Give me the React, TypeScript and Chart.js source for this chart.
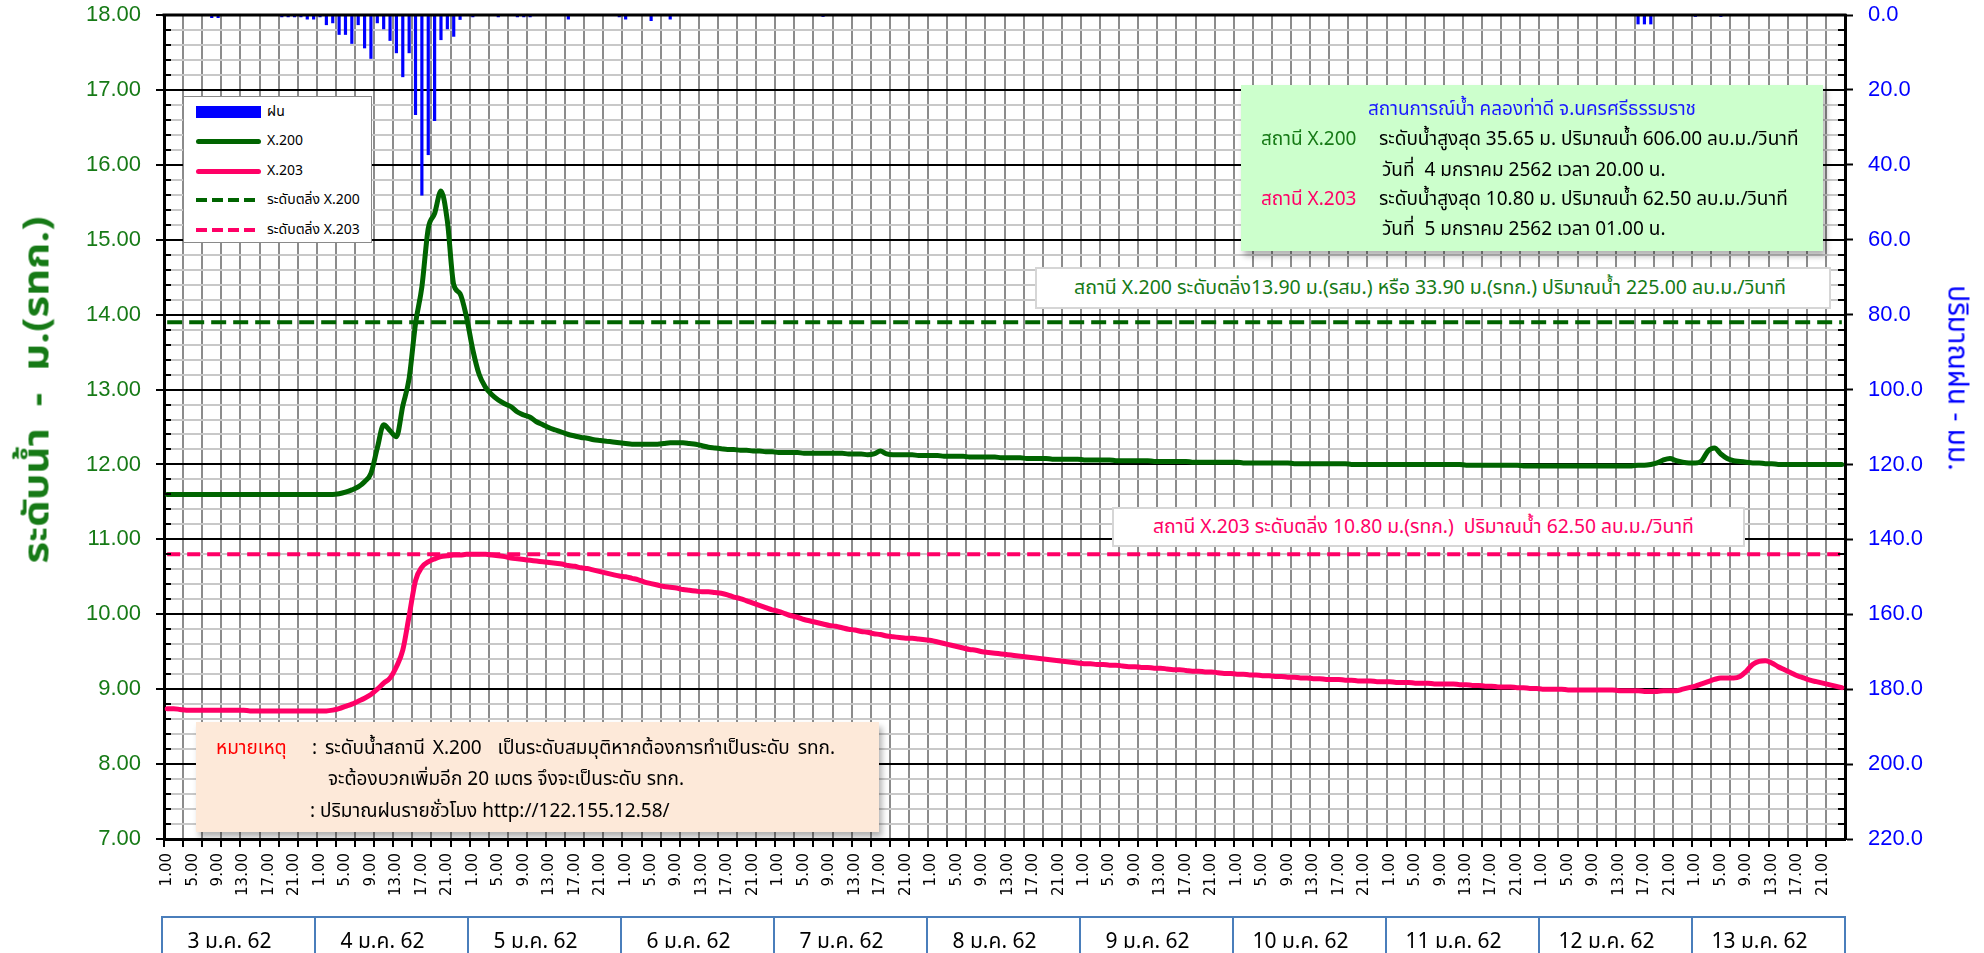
import React, { useEffect, useRef } from 'react';
import { Chart, registerables } from 'chart.js';

Chart.register(...registerables);

// ---------------- DATA ----------------
const DAYS = ['3 ม.ค. 62', '4 ม.ค. 62', '5 ม.ค. 62', '6 ม.ค. 62', '7 ม.ค. 62', '8 ม.ค. 62', '9 ม.ค. 62', '10 ม.ค. 62', '11 ม.ค. 62', '12 ม.ค. 62', '13 ม.ค. 62'];
const HOURS = ['1.00', '2.00', '3.00', '4.00', '5.00', '6.00', '7.00', '8.00', '9.00', '10.00', '11.00', '12.00',
  '13.00', '14.00', '15.00', '16.00', '17.00', '18.00', '19.00', '20.00', '21.00', '22.00', '23.00', '24.00'];

// water level X.200 (m), hourly, 3-13 Jan
const X200 = [
  11.60, 11.60, 11.60, 11.60, 11.60, 11.60, 11.60, 11.60, 11.60, 11.60, 11.60, 11.60, 11.60, 11.60, 11.60, 11.60, 11.60, 11.60, 11.60, 11.60, 11.60, 11.60, 11.60, 11.60,
  11.60, 11.60, 11.60, 11.61, 11.63, 11.66, 11.70, 11.77, 11.88, 12.22, 12.53, 12.45, 12.37, 12.78, 13.15, 13.88, 14.37, 15.15, 15.35, 15.65, 15.25, 14.40, 14.28, 13.97,
  13.53, 13.20, 13.03, 12.93, 12.86, 12.81, 12.77, 12.70, 12.66, 12.63, 12.57, 12.53, 12.49, 12.46, 12.43, 12.40, 12.38, 12.36, 12.35, 12.33, 12.32, 12.31, 12.30, 12.29,
  12.28, 12.27, 12.27, 12.27, 12.27, 12.27, 12.28, 12.29, 12.29, 12.29, 12.28, 12.27, 12.25, 12.23, 12.22, 12.21, 12.20, 12.20, 12.19, 12.19, 12.18, 12.18, 12.17, 12.17,
  12.16, 12.16, 12.16, 12.16, 12.15, 12.15, 12.15, 12.15, 12.15, 12.15, 12.15, 12.14, 12.14, 12.14, 12.13, 12.14, 12.18, 12.14, 12.13, 12.13, 12.13, 12.13, 12.12, 12.12,
  12.12, 12.12, 12.11, 12.11, 12.11, 12.11, 12.10, 12.10, 12.10, 12.10, 12.10, 12.09, 12.09, 12.09, 12.09, 12.08, 12.08, 12.08, 12.08, 12.07, 12.07, 12.07, 12.07, 12.07,
  12.06, 12.06, 12.06, 12.06, 12.06, 12.05, 12.05, 12.05, 12.05, 12.05, 12.05, 12.04, 12.04, 12.04, 12.04, 12.04, 12.04, 12.03, 12.03, 12.03, 12.03, 12.03, 12.03, 12.03,
  12.03, 12.02, 12.02, 12.02, 12.02, 12.02, 12.02, 12.02, 12.02, 12.01, 12.01, 12.01, 12.01, 12.01, 12.01, 12.01, 12.01, 12.01, 12.00, 12.00, 12.00, 12.00, 12.00, 12.00,
  12.00, 12.00, 12.00, 12.00, 12.00, 12.00, 12.00, 12.00, 12.00, 12.00, 12.00, 12.00, 11.99, 11.99, 11.99, 11.99, 11.99, 11.99, 11.99, 11.99, 11.99, 11.98, 11.98, 11.98,
  11.98, 11.98, 11.98, 11.98, 11.98, 11.98, 11.98, 11.98, 11.98, 11.98, 11.98, 11.98, 11.98, 11.98, 11.98, 11.99, 11.99, 12.00, 12.02, 12.06, 12.08, 12.05, 12.03, 12.02,
  12.02, 12.05, 12.18, 12.22, 12.14, 12.08, 12.05, 12.04, 12.03, 12.02, 12.02, 12.01, 12.01, 12.00, 12.00, 12.00, 12.00, 12.00, 12.00, 12.00, 12.00, 12.00, 12.00, 12.00,
];

// water level X.203 (m), hourly
const X203 = [
  8.74, 8.74, 8.73, 8.72, 8.72, 8.72, 8.72, 8.72, 8.72, 8.72, 8.72, 8.72, 8.72, 8.71, 8.71, 8.71, 8.71, 8.71, 8.71, 8.71, 8.71, 8.71, 8.71, 8.71,
  8.71, 8.71, 8.72, 8.74, 8.77, 8.80, 8.84, 8.88, 8.93, 9.00, 9.08, 9.15, 9.30, 9.52, 9.98, 10.45, 10.63, 10.70, 10.74, 10.77, 10.78, 10.79, 10.79, 10.80,
  10.80, 10.80, 10.80, 10.79, 10.78, 10.77, 10.75, 10.74, 10.73, 10.72, 10.71, 10.70, 10.69, 10.68, 10.67, 10.65, 10.64, 10.62, 10.61, 10.59, 10.57, 10.55, 10.53, 10.51,
  10.50, 10.48, 10.46, 10.43, 10.41, 10.39, 10.37, 10.36, 10.35, 10.33, 10.32, 10.31, 10.30, 10.30, 10.29, 10.28, 10.26, 10.23, 10.21, 10.18, 10.15, 10.12, 10.09, 10.06,
  10.04, 10.01, 9.98, 9.96, 9.93, 9.91, 9.89, 9.87, 9.85, 9.84, 9.82, 9.80, 9.79, 9.77, 9.76, 9.74, 9.73, 9.71, 9.70, 9.69, 9.68, 9.68, 9.67, 9.66,
  9.65, 9.63, 9.61, 9.59, 9.57, 9.55, 9.53, 9.52, 9.50, 9.49, 9.48, 9.47, 9.46, 9.45, 9.44, 9.43, 9.42, 9.41, 9.40, 9.39, 9.38, 9.37, 9.36, 9.35,
  9.34, 9.34, 9.33, 9.33, 9.32, 9.32, 9.31, 9.30, 9.30, 9.29, 9.29, 9.28, 9.28, 9.27, 9.26, 9.26, 9.25, 9.24, 9.24, 9.23, 9.23, 9.22, 9.21, 9.21,
  9.20, 9.20, 9.19, 9.19, 9.18, 9.18, 9.17, 9.17, 9.16, 9.16, 9.15, 9.15, 9.14, 9.14, 9.13, 9.13, 9.13, 9.12, 9.12, 9.11, 9.11, 9.11, 9.10, 9.10,
  9.10, 9.09, 9.09, 9.09, 9.08, 9.08, 9.08, 9.07, 9.07, 9.07, 9.07, 9.06, 9.06, 9.05, 9.05, 9.04, 9.04, 9.03, 9.03, 9.03, 9.02, 9.02, 9.01, 9.01,
  9.00, 9.00, 9.00, 9.00, 8.99, 8.99, 8.99, 8.99, 8.99, 8.99, 8.99, 8.99, 8.98, 8.98, 8.98, 8.98, 8.97, 8.97, 8.97, 8.98, 8.98, 8.98, 9.00, 9.02,
  9.04, 9.07, 9.10, 9.13, 9.15, 9.15, 9.15, 9.17, 9.24, 9.33, 9.37, 9.38, 9.35, 9.30, 9.26, 9.22, 9.18, 9.15, 9.12, 9.10, 9.08, 9.06, 9.04, 9.02,
];

// hourly rainfall (mm)
const RAIN = [
  0, 0, 0, 0, 0, 0, 0, 0.8, 0.8, 0, 0, 0, 0, 0, 0, 0, 0, 0, 0.6, 0.6, 0.6, 0.6, 1.2, 1.2,
  0.6, 2.7, 2.2, 5.3, 5.3, 7.7, 2.7, 8.9, 11.7, 2.2, 3.8, 6.9, 10.2, 16.6, 10.2, 26.7, 48.2, 37.4, 28.3, 6.7, 3.8, 5.8, 1.3, 0,
  0.6, 0, 0, 0, 0.6, 0, 0, 0.6, 0.6, 0.6, 0, 0, 0, 0, 0, 1.2, 0, 0, 0, 0, 0, 0, 0, 0.6,
  1.2, 0, 0, 0, 1.6, 0, 0, 1.2, 0, 0, 0, 0, 0, 0, 0, 0, 0, 0, 0, 0, 0, 0, 0, 0,
  0, 0, 0, 0, 0, 0, 0, 0.5, 0, 0, 0, 0, 0, 0, 0, 0, 0, 0, 0, 0, 0, 0, 0, 0,
  0, 0, 0, 0, 0, 0, 0, 0, 0, 0, 0, 0, 0, 0, 0, 0, 0, 0, 0, 0, 0, 0, 0, 0,
  0, 0, 0, 0, 0, 0, 0, 0, 0, 0, 0, 0, 0, 0, 0, 0, 0, 0, 0, 0, 0, 0, 0, 0,
  0, 0, 0, 0, 0, 0, 0, 0, 0, 0, 0, 0, 0, 0, 0, 0, 0, 0, 0, 0, 0, 0, 0, 0,
  0, 0, 0, 0, 0, 0, 0, 0, 0, 0, 0, 0, 0, 0, 0, 0, 0, 0, 0, 0, 0, 0, 0, 0,
  0, 0, 0, 0, 0, 0, 0, 0, 0, 0, 0, 0, 0, 0, 0, 2.5, 2.5, 2.5, 0, 0, 0, 0, 0, 0,
  0.5, 0, 0, 0, 0.5, 0, 0, 0, 0, 0, 0, 0, 0, 0, 0, 0, 0, 0, 0, 0, 0, 0, 0, 0,
];

const BANK_X200 = 13.9;
const BANK_X203 = 10.8;
const SERIES_NAMES = ['ฝน', 'X.200', 'X.203', 'ระดับตลิ่ง X.200', 'ระดับตลิ่ง X.203'];
const LEVEL_RANGE = [7, 18];
const RAIN_RANGE = [0, 220];

const CATEGORIES: string[] = [];
DAYS.forEach(() => HOURS.forEach((h) => CATEGORIES.push(h)));

// ---------------- STYLE ----------------
const GREEN = '#006400';
const GREEN_TXT = '#167a16';
const PINK = '#ff0066';
const BLUE = '#0000ff';
const THAI = "Tahoma, 'Noto Sans Thai', 'Noto Sans Thai UI', 'Leelawadee UI', 'Noto Sans', 'DejaVu Sans', sans-serif";
const NUM = "Tahoma, 'Liberation Sans', Arial, sans-serif";
const XNUM = "'DejaVu Sans', Verdana, sans-serif";

const W = 1984;
const H = 953;
const PLOT_LEFT = 164;
const PLOT_RIGHT = 1845;
const PLOT_TOP = 15;
const PLOT_BOTTOM = 839;

const isMajor = (v: any) => v !== undefined && v !== null && Math.abs(v - Math.round(v)) < 1e-6;

const axisPlugin = {
  id: 'minorTicks',
  afterDraw(chart: any) {
    const { ctx, chartArea, scales } = chart;
    ctx.save();
    ctx.strokeStyle = '#000';
    ctx.lineWidth = 2;
    scales.y.ticks.forEach((t: any) => {
      if (!isMajor(t.value)) {
        const py = Math.round(scales.y.getPixelForValue(t.value));
        ctx.beginPath();
        ctx.moveTo(chartArea.left, py);
        ctx.lineTo(chartArea.left + 7, py);
        ctx.stroke();
      }
    });
    scales.y1.ticks.forEach((t: any) => {
      if (Math.round(t.value) % 20 !== 0) {
        const py = Math.round(scales.y1.getPixelForValue(t.value));
        ctx.beginPath();
        ctx.moveTo(chartArea.right - 7, py);
        ctx.lineTo(chartArea.right, py);
        ctx.stroke();
      }
    });
    ctx.lineWidth = 3;
    ctx.beginPath();
    ctx.moveTo(chartArea.left - 1.5, chartArea.top);
    ctx.lineTo(chartArea.right + 1.5, chartArea.top);
    ctx.stroke();
    ctx.restore();
  },
};

const abs = (x: number, y: number, extra: any = {}) => ({
  position: 'absolute' as const,
  left: x,
  top: y,
  transform: 'translateY(-50%)',
  whiteSpace: 'pre' as const,
  lineHeight: 1.1,
  ...extra,
});

function LegendBox() {
  const rowsY = [15, 44, 74, 103, 133];
  return (
    <div style={{ position: 'absolute', left: 183, top: 96, width: 189, height: 147, background: '#fff', border: '1px solid #8a8a8a', boxSizing: 'border-box', fontFamily: THAI, fontSize: 14, color: '#000' }}>
      {SERIES_NAMES.map((name, i) => {
        const y = rowsY[i];
        let swatch: any;
        if (i === 0) {
          swatch = <div style={{ position: 'absolute', left: 12, top: y - 6, width: 65, height: 12, background: BLUE }} />;
        } else if (i <= 2) {
          swatch = <div style={{ position: 'absolute', left: 12, top: y - 2.5, width: 65, height: 5, borderRadius: 3, background: i === 1 ? GREEN : PINK }} />;
        } else {
          const c = i === 3 ? GREEN : PINK;
          swatch = <div style={{ position: 'absolute', left: 12, top: y - 2, width: 62, height: 4, background: `repeating-linear-gradient(90deg, ${c} 0 11px, transparent 11px 16px)` }} />;
        }
        return (
          <React.Fragment key={name}>
            {swatch}
            <div style={abs(83, y)}>{name}</div>
          </React.Fragment>
        );
      })}
    </div>
  );
}

function Overlays() {
  const dayLeft = 161;
  const dayW = (1844 - 161) / DAYS.length;
  return (
    <>
      {/* axis titles */}
      <div style={{ position: 'absolute', left: 38, top: 390, transform: 'translate(-50%, -50%) rotate(-90deg) scaleX(1.2)', whiteSpace: 'pre', fontFamily: THAI, fontWeight: 'bold', fontSize: 35, color: GREEN_TXT }}>
        {'ระดับน้ำ  -  ม.(รทก.)'}
      </div>
      <div style={{ position: 'absolute', left: 1957, top: 378, transform: 'translate(-50%, -50%) rotate(90deg)', whiteSpace: 'pre', fontFamily: THAI, fontSize: 28, color: BLUE }}>
        {'ปริมาณฝน - มม.'}
      </div>

      <LegendBox />

      {/* max level info box */}
      <div style={{ position: 'absolute', left: 1241, top: 85, width: 582, height: 166, background: '#ccffcc', boxShadow: '3px 5px 6px rgba(0,0,0,0.3)', fontFamily: THAI, fontSize: 19, color: '#000' }}>
        <div style={{ ...abs(291, 25), transform: 'translate(-50%, -50%)', color: '#1a1aff' }}>{'สถานการณ์น้ำ คลองท่าดี จ.นครศรีธรรมราช'}</div>
        <div style={abs(20, 55, { color: GREEN_TXT })}>{'สถานี X.200'}</div>
        <div style={abs(138, 55)}>{'ระดับน้ำสูงสุด 35.65 ม. ปริมาณน้ำ 606.00 ลบ.ม./วินาที'}</div>
        <div style={abs(141, 86)}>{'วันที่  4 มกราคม 2562 เวลา 20.00 น.'}</div>
        <div style={abs(20, 115, { color: PINK })}>{'สถานี X.203'}</div>
        <div style={abs(138, 115)}>{'ระดับน้ำสูงสุด 10.80 ม. ปริมาณน้ำ 62.50 ลบ.ม./วินาที'}</div>
        <div style={abs(141, 145)}>{'วันที่  5 มกราคม 2562 เวลา 01.00 น.'}</div>
      </div>

      {/* bank level X.200 */}
      <div style={{ position: 'absolute', left: 1035, top: 267, width: 796, height: 42, background: '#fff', border: '2px solid #d6d6d6', boxSizing: 'border-box', fontFamily: THAI, fontSize: 19.5, color: GREEN_TXT }}>
        <div style={abs(37, 20)}>{'สถานี X.200 ระดับตลิ่ง13.90 ม.(รสม.) หรือ 33.90 ม.(รทก.) ปริมาณน้ำ 225.00 ลบ.ม./วินาที'}</div>
      </div>

      {/* bank level X.203 */}
      <div style={{ position: 'absolute', left: 1112, top: 507, width: 633, height: 40, background: '#fff', border: '2px solid #d6d6d6', boxSizing: 'border-box', fontFamily: THAI, fontSize: 19.3, color: PINK }}>
        <div style={abs(39, 19)}>{'สถานี X.203 ระดับตลิ่ง 10.80 ม.(รทก.)  ปริมาณน้ำ 62.50 ลบ.ม./วินาที'}</div>
      </div>

      {/* note */}
      <div style={{ position: 'absolute', left: 196, top: 722, width: 683, height: 110, background: '#fde9d9', boxShadow: '3px 5px 6px rgba(0,0,0,0.3)', fontFamily: THAI, fontSize: 19, color: '#000' }}>
        <div style={abs(20, 27, { color: '#ff0000' })}>{'หมายเหตุ'}</div>
        <div style={abs(116, 27, { wordSpacing: 3 })}>{': ระดับน้ำสถานี X.200  เป็นระดับสมมุติหากต้องการทำเป็นระดับ รทก.'}</div>
        <div style={abs(132, 58)}>{'จะต้องบวกเพิ่มอีก 20 เมตร จึงจะเป็นระดับ รทก.'}</div>
        <div style={abs(114, 90)}>{': ปริมาณฝนรายชั่วโมง http://122.155.12.58/'}</div>
      </div>

      {/* day labels */}
      {DAYS.map((d, i) => (
        <div key={d} style={{ position: 'absolute', left: dayLeft + i * dayW, top: 916, width: dayW + 2, height: 60, border: '2px solid #4a7ebb', boxSizing: 'border-box', fontFamily: THAI, fontSize: 21, color: '#000' }}>
          <div style={{ position: 'absolute', left: 0, right: 18, top: 23, transform: 'translateY(-50%)', textAlign: 'center', whiteSpace: 'pre' }}>{d}</div>
        </div>
      ))}
    </>
  );
}

export default function App() {
  const canvasRef = useRef<HTMLCanvasElement | null>(null);

  useEffect(() => {
    const canvas = canvasRef.current;
    if (!canvas) return;
    const bankA = CATEGORIES.map(() => BANK_X200);
    const bankB = CATEGORIES.map(() => BANK_X203);
    const zeroPad = (s: any) => {
      s.paddingTop = 0;
      s.paddingBottom = 0;
    };
    const chart = new Chart(canvas, {
      type: 'bar',
      data: {
        labels: CATEGORIES,
        datasets: [
          {
            type: 'line', label: SERIES_NAMES[1], data: X200, yAxisID: 'y', borderColor: GREEN, borderWidth: 5,
            pointRadius: 0, cubicInterpolationMode: 'monotone', borderCapStyle: 'round', borderJoinStyle: 'round', order: 1,
          } as any,
          {
            type: 'line', label: SERIES_NAMES[2], data: X203, yAxisID: 'y', borderColor: PINK, borderWidth: 5,
            pointRadius: 0, cubicInterpolationMode: 'monotone', borderCapStyle: 'round', borderJoinStyle: 'round', order: 1,
          } as any,
          {
            type: 'line', label: SERIES_NAMES[3], data: bankA, yAxisID: 'y', borderColor: GREEN, borderWidth: 4,
            borderDash: [15, 7], pointRadius: 0, order: 2,
          } as any,
          {
            type: 'line', label: SERIES_NAMES[4], data: bankB, yAxisID: 'y', borderColor: PINK, borderWidth: 4,
            borderDash: [13, 7], pointRadius: 0, order: 2,
          } as any,
          {
            type: 'bar', label: SERIES_NAMES[0], data: RAIN, yAxisID: 'y1', backgroundColor: BLUE,
            barPercentage: 0.5, categoryPercentage: 1, order: 5,
          } as any,
        ],
      },
      options: {
        responsive: false,
        devicePixelRatio: 1,
        animation: false,
        layout: { padding: { top: PLOT_TOP, left: 0, right: 0, bottom: 0 } },
        plugins: { legend: { display: false }, tooltip: { enabled: false }, title: { display: false } },
        scales: {
          x: {
            type: 'category',
            offset: true,
            grid: {
              offset: true,
              color: (c: any) => (c.index % 3 === 0 ? '#8c8c8c' : 'transparent'),
              lineWidth: 2,
              tickLength: 8,
              tickColor: (c: any) => (c.index % 3 === 0 ? '#000' : 'transparent'),
              tickWidth: 2,
            },
            border: { display: true, color: '#000', width: 3 },
            ticks: {
              autoSkip: false,
              maxRotation: 90,
              minRotation: 90,
              padding: 6,
              color: '#000',
              font: { family: XNUM, size: 15 },
              callback: (_v: any, i: number) => (i % 4 === 0 ? CATEGORIES[i] : ''),
            },
            afterFit: (s: any) => {
              s.height = H - PLOT_BOTTOM;
              s.paddingLeft = 0;
              s.paddingRight = 0;
            },
          },
          y: {
            position: 'left',
            min: LEVEL_RANGE[0],
            max: LEVEL_RANGE[1],
            ticks: {
              stepSize: 0.2,
              autoSkip: false,
              padding: 15,
              color: GREEN_TXT,
              font: { family: NUM, size: 22 },
              callback: (v: any) => (isMajor(v) ? Number(v).toFixed(2) : ''),
            },
            grid: {
              color: (c: any) => (isMajor(c.tick?.value) ? '#000' : '#c8c8c8'),
              lineWidth: 2,
              tickLength: 8,
              tickColor: (c: any) => (isMajor(c.tick?.value) ? '#000' : 'transparent'),
              tickWidth: 2,
            },
            border: { display: true, color: '#000', width: 3 },
            afterFit: (s: any) => {
              s.width = PLOT_LEFT;
              zeroPad(s);
            },
          },
          y1: {
            position: 'right',
            reverse: true,
            min: RAIN_RANGE[0],
            max: RAIN_RANGE[1],
            ticks: {
              stepSize: 4,
              autoSkip: false,
              padding: 15,
              color: BLUE,
              font: { family: NUM, size: 22 },
              callback: (v: any) => (Math.round(v) % 20 === 0 ? Number(v).toFixed(1) : ''),
            },
            grid: {
              drawOnChartArea: false,
              tickLength: 8,
              tickColor: (c: any) => (c.tick && Math.round(c.tick.value) % 20 === 0 ? '#000' : 'transparent'),
              tickWidth: 2,
            },
            border: { display: true, color: '#000', width: 3 },
            afterFit: (s: any) => {
              s.width = W - PLOT_RIGHT;
              zeroPad(s);
            },
          },
        },
      } as any,
      plugins: [axisPlugin],
    });
    return () => chart.destroy();
  }, []);

  return (
    <div style={{ position: 'absolute', left: 0, top: 0, width: W, height: H, overflow: 'hidden', background: '#fff' }}>
      <canvas ref={canvasRef} width={W} height={H} style={{ position: 'absolute', left: 0, top: 0, width: W, height: H }} />
      <Overlays />
    </div>
  );
}
